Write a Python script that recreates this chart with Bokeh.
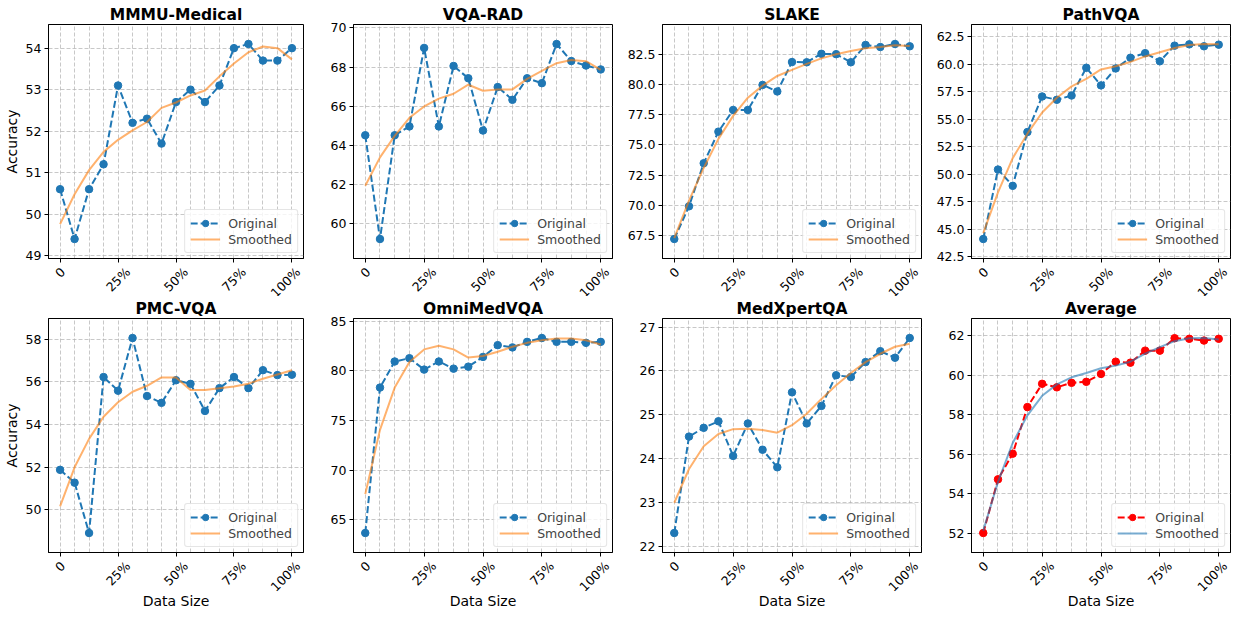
import math
from bokeh.plotting import figure
from bokeh.layouts import row, column
from bokeh.models import FixedTicker, Range1d, NumeralTickFormatter
from bokeh.core.properties import value
from bokeh.embed import file_html
from bokeh.resources import INLINE

# ---------------- data ----------------
data_size = [0, 6.25, 12.5, 18.75, 25, 31.25, 37.5, 43.75, 50,
             56.25, 62.5, 68.75, 75, 81.25, 87.5, 93.75, 100]
x_major = [0, 25, 50, 75, 100]
x_tick_labels = ["0", "25%", "50%", "75%", "100%"]

mmmu_orig = [50.6, 49.4, 50.6, 51.2, 53.1, 52.2, 52.3, 51.7, 52.7, 53.0, 52.7, 53.1, 54.0, 54.1, 53.7, 53.7, 54.0]
mmmu_smooth = [49.76, 50.48, 51.06, 51.5, 51.79, 52.02, 52.22, 52.56, 52.69, 52.86, 52.98, 53.32, 53.63, 53.9, 54.04, 54.0, 53.73]

vqarad_orig = [64.52, 59.22, 64.52, 64.97, 68.98, 64.97, 68.06, 67.43, 64.76, 66.98, 66.33, 67.43, 67.18, 69.18, 68.31, 68.08, 67.88]
vqarad_smooth = [61.94, 63.39, 64.49, 65.41, 65.99, 66.39, 66.64, 67.1, 66.79, 66.86, 66.86, 67.4, 67.81, 68.2, 68.36, 68.3, 67.86]

slake_orig = [67.23, 69.93, 73.49, 76.1, 77.89, 77.89, 79.96, 79.42, 81.85, 81.83, 82.53, 82.5, 81.83, 83.26, 83.09, 83.34, 83.15]
slake_smooth = [67.3, 70.4, 73.1, 75.5, 77.4, 78.9, 79.9, 80.7, 81.2, 81.7, 82.15, 82.5, 82.77, 82.99, 83.1, 83.23, 83.17]

pathvqa_orig = [44.13, 50.44, 48.96, 53.85, 57.08, 56.78, 57.17, 59.69, 58.09, 59.63, 60.6, 61.02, 60.28, 61.7, 61.82, 61.64, 61.79]
pathvqa_smooth = [44.66, 48.37, 51.48, 53.7, 55.63, 56.96, 58.0, 58.68, 59.54, 59.83, 60.22, 60.72, 61.1, 61.49, 61.76, 61.85, 61.82]

pmc_orig = [51.88, 51.28, 48.92, 56.23, 55.59, 58.06, 55.34, 55.02, 56.08, 55.91, 54.64, 55.71, 56.23, 55.71, 56.55, 56.32, 56.34]
pmc_smooth = [50.17, 52.0, 53.33, 54.37, 55.05, 55.54, 55.82, 56.21, 56.21, 55.62, 55.62, 55.71, 55.79, 55.92, 56.15, 56.35, 56.55]

omni_orig = [63.65, 78.32, 80.95, 81.28, 80.13, 80.95, 80.23, 80.43, 81.41, 82.6, 82.37, 82.93, 83.32, 82.93, 82.93, 82.83, 82.93]
omni_smooth = [67.57, 74.05, 78.32, 80.89, 82.17, 82.53, 82.17, 81.35, 81.51, 81.94, 82.43, 82.83, 83.09, 83.26, 83.26, 83.09, 82.66]

medx_orig = [22.3, 24.5, 24.7, 24.85, 24.06, 24.8, 24.2, 23.8, 25.51, 24.8, 25.2, 25.9, 25.86, 26.2, 26.45, 26.3, 26.75]
medx_smooth = [22.99, 23.76, 24.28, 24.56, 24.67, 24.68, 24.65, 24.59, 24.76, 25.02, 25.36, 25.67, 25.95, 26.2, 26.39, 26.55, 26.62]

avg_orig = [52.0, 54.72, 56.02, 58.38, 59.56, 59.38, 59.61, 59.66, 60.06, 60.68, 60.63, 61.24, 61.24, 61.87, 61.84, 61.75, 61.84]
avg_smooth = [52.12, 54.59, 56.56, 57.96, 58.95, 59.53, 59.89, 60.11, 60.35, 60.48, 60.68, 61.09, 61.42, 61.72, 61.87, 61.88, 61.8]

titles = ["MMMU-Medical", "VQA-RAD", "SLAKE", "PathVQA",
          "PMC-VQA", "OmniMedVQA", "MedXpertQA", "Average"]
originals = [mmmu_orig, vqarad_orig, slake_orig, pathvqa_orig,
             pmc_orig, omni_orig, medx_orig, avg_orig]
smootheds = [mmmu_smooth, vqarad_smooth, slake_smooth, pathvqa_smooth,
             pmc_smooth, omni_smooth, medx_smooth, avg_smooth]
y_ticks = [[49, 50, 51, 52, 53, 54],
           [60, 62, 64, 66, 68, 70],
           [67.5, 70, 72.5, 75, 77.5, 80, 82.5],
           [42.5, 45, 47.5, 50, 52.5, 55, 57.5, 60, 62.5],
           [48, 50, 52, 54, 56, 58],
           [65, 70, 75, 80, 85],
           [22, 23, 24, 25, 26, 27],
           [52, 54, 56, 58, 60, 62]]
y_formats = ["0", "0", "0.0", "0.0", "0", "0", "0", "0"]

# ---------------- style / layout ----------------
FONT = "DejaVu Sans"
BLUE = "#1f77b4"
ORANGE = "#ff7f0e"
RED = "#ff0000"
TICK_PX = 12.5
TICK_FS = f"{TICK_PX}px"
FW = 259
FH = 234
col_left = [44, 46, 46, 46]
col_right = [4, 4, 4, 6]
row_top = [24, 22]
row_bottom = [6, 6]
strip_h = [32, 52]
X0, X1 = -5, 105


def label_geom(s, t):
    # rotated label: half of its bounding box, and a small sideways nudge
    # so that the right-most label stays inside the drawing area
    w = sum(0.95 * TICK_PX if ch == "%" else 0.636 * TICK_PX for ch in s)
    half = (w + 9) / (2 * math.sqrt(2))
    half_box = (w + 13) / (2 * math.sqrt(2))
    room = (X1 - t) * FW / (X1 - X0)
    dx = min(0.0, room - half_box - 1)
    return 2 + half, dx


def make_panel(i):
    r, c = divmod(i, 4)
    orig, smooth = originals[i], smootheds[i]
    lo = min(orig + smooth)
    hi = max(orig + smooth)
    pad = 0.1 * (hi - lo)
    p = figure(width=col_left[c] + FW + col_right[c],
               height=row_top[r] + FH + row_bottom[r],
               output_backend="svg", toolbar_location=None,
               x_range=Range1d(X0, X1), y_range=Range1d(lo - pad, hi + pad),
               min_border_left=col_left[c], min_border_right=col_right[c],
               min_border_top=row_top[r], min_border_bottom=row_bottom[r])
    p.title.text = titles[i]
    p.title.align = "center"
    p.title.text_font = FONT
    p.title.text_font_style = "bold"
    p.title.text_font_size = "15.5px"
    p.title.text_color = "black"
    p.title.standoff = 2
    p.title.offset = 0

    p.outline_line_color = "black"
    p.outline_line_width = 1
    p.outline_line_alpha = 1

    for ax in (p.xaxis[0], p.yaxis[0]):
        ax.axis_line_color = "black"
        ax.major_tick_line_color = "black"
        ax.major_tick_out = 4
        ax.major_tick_in = 0
        ax.minor_tick_line_color = None
        ax.major_label_text_font = FONT
        ax.major_label_text_font_size = TICK_FS
        ax.major_label_text_color = "black"
        ax.axis_label_text_font = FONT
        ax.axis_label_text_font_size = "14px"
        ax.axis_label_text_font_style = "normal"
        ax.axis_label_text_color = "black"
        ax.major_label_standoff = 3
        ax.axis_label_standoff = 3

    minor = [t for t in data_size if t not in x_major]
    p.xaxis.ticker = FixedTicker(ticks=x_major, minor_ticks=minor)
    p.xaxis.major_label_overrides = {t: "" for t in x_major}
    p.xaxis.major_label_standoff = 0
    p.yaxis.ticker = FixedTicker(ticks=y_ticks[i])
    p.yaxis.formatter = NumeralTickFormatter(format=y_formats[i])
    if c == 0:
        p.yaxis.axis_label = "Accuracy"

    for g in (p.xgrid[0], p.ygrid[0]):
        g.grid_line_color = "#b0b0b0"
        g.grid_line_dash = "4 2"
        g.grid_line_width = 1
        g.grid_line_alpha = 0.7
    p.xgrid.minor_grid_line_color = "#b0b0b0"
    p.xgrid.minor_grid_line_dash = "4 2"
    p.xgrid.minor_grid_line_width = 1
    p.xgrid.minor_grid_line_alpha = 0.7

    oc = RED if i == 7 else BLUE
    sc = BLUE if i == 7 else ORANGE
    p.line(data_size, orig, line_color=oc, line_width=2, line_dash="7 3",
           legend_label="Original")
    p.scatter(data_size, orig, marker="circle", size=7.5, fill_color=oc,
              line_color=oc, legend_label="Original")
    p.line(data_size, smooth, line_color=sc, line_width=2, line_alpha=0.6,
           legend_label="Smoothed")

    lg = p.legend[0]
    lg.location = "bottom_right"
    lg.margin = 5
    lg.padding = 5
    lg.spacing = 0
    lg.glyph_width = 30
    lg.glyph_height = 16
    lg.label_height = 16
    lg.label_standoff = 8
    lg.label_text_font = FONT
    lg.label_text_font_size = "12.5px"
    lg.border_line_color = "#cccccc"
    lg.border_line_width = 1
    lg.background_fill_alpha = 0.8
    if "border_radius" in lg.properties():
        lg.border_radius = 3
    return p


def make_strip(i, panel):
    """Row of rotated x tick labels (and the x-axis title on the bottom row),
    drawn on the same x range and frame as the panel above it."""
    r, c = divmod(i, 4)
    h = strip_h[r]
    s = figure(width=col_left[c] + FW + col_right[c], height=h,
               output_backend="svg", toolbar_location=None,
               x_range=panel.x_range, y_range=Range1d(-h, 0),
               x_axis_location=None, y_axis_location=None,
               min_border=0, min_border_left=col_left[c],
               min_border_right=col_right[c],
               min_border_top=0, min_border_bottom=0)
    s.grid.visible = False
    s.outline_line_color = None
    for t, lab in zip(x_major, x_tick_labels):
        dy, dx = label_geom(lab, t)
        s.text(x=[t], y=[-dy], text=[lab], angle=math.pi / 4,
               x_offset=dx, text_align="center", text_baseline="middle",
               text_font=value(FONT), text_font_size=TICK_FS,
               text_color="black")
    if r == 1:
        s.text(x=[(X0 + X1) / 2], y=[-42], text=["Data Size"],
               text_align="center", text_baseline="middle",
               text_font=value(FONT), text_font_size="14px",
               text_color="black")
    return s


panels = [make_panel(i) for i in range(8)]
strips = [make_strip(i, panels[i]) for i in range(8)]
cells = [column(panels[i], strips[i], spacing=0) for i in range(8)]
layout = column(row(*cells[:4], spacing=0), row(*cells[4:], spacing=0),
                spacing=0)

open("out.html", "w").write(file_html(layout, INLINE))
